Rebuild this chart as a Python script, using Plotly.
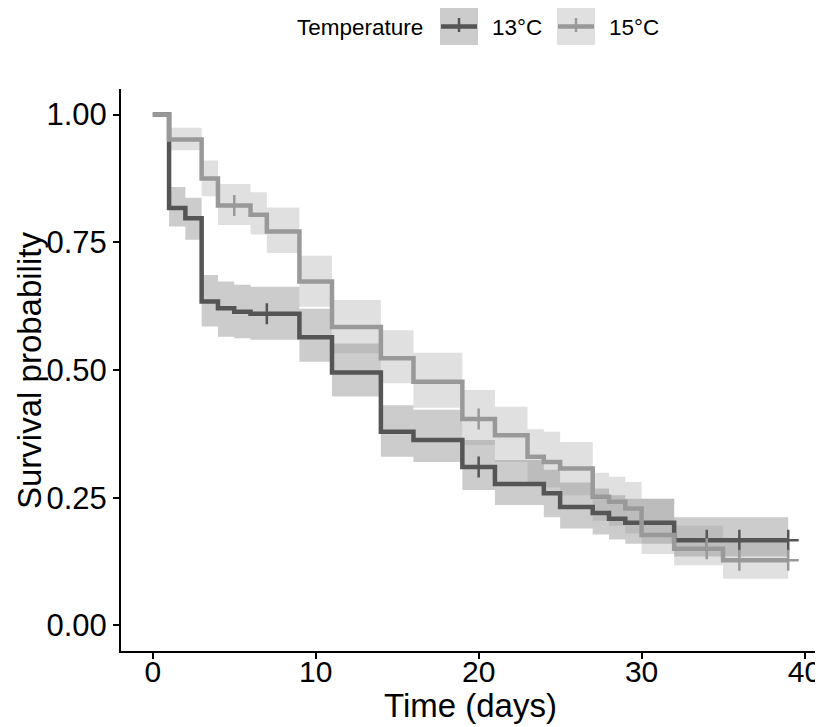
import plotly.graph_objects as go

# ---- data ----
time_13 = [0, 1, 2, 3, 4, 5, 6, 9, 11, 14, 16, 19, 21, 24, 25, 27, 28, 29, 32, 39]
surv_13 = [1.0, 0.817, 0.797, 0.634, 0.621, 0.614, 0.610, 0.564, 0.495, 0.379, 0.363,
           0.310, 0.277, 0.259, 0.232, 0.220, 0.209, 0.201, 0.167, 0.167]
lower_13 = [1.0, 0.781, 0.755, 0.585, 0.565, 0.562, 0.559, 0.516, 0.448, 0.330, 0.320,
            0.265, 0.236, 0.212, 0.190, 0.178, 0.168, 0.160, 0.135, 0.135]
upper_13 = [1.0, 0.858, 0.837, 0.686, 0.673, 0.667, 0.663, 0.620, 0.552, 0.431, 0.422,
            0.363, 0.324, 0.305, 0.280, 0.268, 0.255, 0.248, 0.212, 0.212]
censor_13 = [7, 20, 34, 36, 39]

time_15 = [0, 1, 3, 4, 6, 7, 9, 11, 14, 16, 19, 21, 23, 24, 25, 27, 28, 29, 30, 32, 35, 39]
surv_15 = [1.0, 0.951, 0.875, 0.822, 0.804, 0.771, 0.673, 0.584, 0.523, 0.477, 0.404,
           0.3725, 0.330, 0.320, 0.307, 0.252, 0.242, 0.229, 0.177, 0.150, 0.1275, 0.1275]
lower_15 = [1.0, 0.930, 0.840, 0.784, 0.765, 0.729, 0.624, 0.533, 0.474, 0.426, 0.353,
            0.320, 0.280, 0.270, 0.255, 0.205, 0.195, 0.180, 0.140, 0.118, 0.0915, 0.0915]
upper_15 = [1.0, 0.974, 0.910, 0.864, 0.848, 0.818, 0.7235, 0.637, 0.578, 0.534, 0.461,
            0.428, 0.384, 0.379, 0.359, 0.299, 0.291, 0.281, 0.248, 0.195, 0.170, 0.170]
censor_15 = [5, 20, 34, 36, 39]

x_ticks = [0, 10, 20, 30, 40]
y_ticks = [0, 0.25, 0.5, 0.75, 1.0]
y_tick_labels = ["0.00", "0.25", "0.50", "0.75", "1.00"]
group_names = ["13°C", "15°C"]
legend_title = "Temperature"
x_title = "Time (days)"
y_title = "Survival probability"

# ---- style ----
FONT = "Liberation Sans, Arial, sans-serif"
col_13 = "rgb(85,85,85)"
col_15 = "rgb(153,153,153)"
fill_13 = "rgba(85,85,85,0.3)"
fill_15 = "rgba(153,153,153,0.3)"


def step_at(times, vals, t):
    v = vals[0]
    for ti, vi in zip(times, vals):
        if ti <= t:
            v = vi
    return v


fig = go.Figure()

groups = [
    (time_13, surv_13, lower_13, upper_13, censor_13, col_13, fill_13),
    (time_15, surv_15, lower_15, upper_15, censor_15, col_15, fill_15),
]

# ribbons
for t, s, lo, up, cen, col, fc in groups:
    fig.add_trace(go.Scatter(x=t, y=up, mode="lines", line=dict(width=0, shape="hv"),
                             showlegend=False, hoverinfo="skip"))
    fig.add_trace(go.Scatter(x=t, y=lo, mode="lines", line=dict(width=0, shape="hv"),
                             fill="tonexty", fillcolor=fc, showlegend=False, hoverinfo="skip"))

# survival lines
for (t, s, lo, up, cen, col, fc), name in zip(groups, group_names):
    fig.add_trace(go.Scatter(x=t, y=s, mode="lines", line=dict(width=4.5, shape="hv", color=col),
                             name=name, showlegend=False))

# censor marks
for t, s, lo, up, cen, col, fc in groups:
    fig.add_trace(go.Scatter(x=cen, y=[step_at(t, s, c) for c in cen], mode="markers",
                             marker=dict(symbol="cross-thin", size=15,
                                         line=dict(width=2.5, color=col)),
                             showlegend=False, hoverinfo="skip"))

# ---- page geometry (the page body adds an 8px offset) ----
OFF = 8
W, H = 823 - OFF, 727 - OFF
PX0, PX1, PY0, PY1 = 121, 820, 89, 651   # plot area in page pixels


def px(xp):
    return (xp - PX0) / (PX1 - PX0)


def py(yp):
    return (PY1 - yp) / (PY1 - PY0)


LEG_Y = 27
shapes = []
annotations = [
    dict(text=legend_title, x=px(295), y=py(LEG_Y), xref="paper", yref="paper",
         xanchor="left", yanchor="middle", showarrow=False,
         font=dict(family=FONT, size=22.5, color="black")),
    dict(text=x_title, x=0.5, y=py(705), xref="paper", yref="paper",
         xanchor="center", yanchor="middle", showarrow=False,
         font=dict(family=FONT, size=33, color="black")),
    dict(text=y_title, x=px(29), y=0.5, xref="paper", yref="paper", textangle=-90,
         xanchor="center", yanchor="middle", showarrow=False,
         font=dict(family=FONT, size=33, color="black")),
]
keys = [(440, 490, col_13, fill_13, group_names[0]), (557, 607, col_15, fill_15, group_names[1])]
for bx, tx, col, fc, name in keys:
    shapes.append(dict(type="rect", xref="paper", yref="paper", x0=px(bx), x1=px(bx + 38),
                       y0=py(45), y1=py(8), fillcolor=fc, line=dict(width=0), layer="above"))
    shapes.append(dict(type="line", xref="paper", yref="paper", x0=px(bx + 1), x1=px(bx + 37),
                       y0=py(26.5), y1=py(26.5), line=dict(color=col, width=4.5), layer="above"))
    shapes.append(dict(type="line", xref="paper", yref="paper", x0=px(bx + 19), x1=px(bx + 19),
                       y0=py(18), y1=py(32), line=dict(color=col, width=2.5), layer="above"))
    annotations.append(dict(text=name, x=px(tx), y=py(LEG_Y), xref="paper", yref="paper",
                            xanchor="left", yanchor="middle", showarrow=False,
                            font=dict(family=FONT, size=22.5, color="black")))

fig.update_layout(
    width=W, height=H,
    margin=dict(l=PX0 - OFF, r=W - (PX1 - OFF), t=PY0 - OFF, b=H - (PY1 - OFF)),
    paper_bgcolor="white", plot_bgcolor="white",
    font=dict(family=FONT, color="black"),
    shapes=shapes, annotations=annotations,
    showlegend=False,
    xaxis=dict(range=[-1.95, 40.95], tickvals=x_ticks, ticks="outside", ticklen=6,
               tickwidth=1.5, tickcolor="black", showline=True, linecolor="black",
               linewidth=2, showgrid=False, zeroline=False, automargin=False,
               ticklabelstandoff=-13,
               tickfont=dict(family=FONT, size=30, color="black")),
    yaxis=dict(range=[-0.05, 1.05], tickvals=y_ticks, ticktext=y_tick_labels,
               ticks="outside", ticklen=6, tickwidth=1.5, tickcolor="black",
               showline=True, linecolor="black", linewidth=2, showgrid=False,
               zeroline=False, automargin=False,
               tickfont=dict(family=FONT, size=31, color="black")),
)

fig.write_html("out.html")
